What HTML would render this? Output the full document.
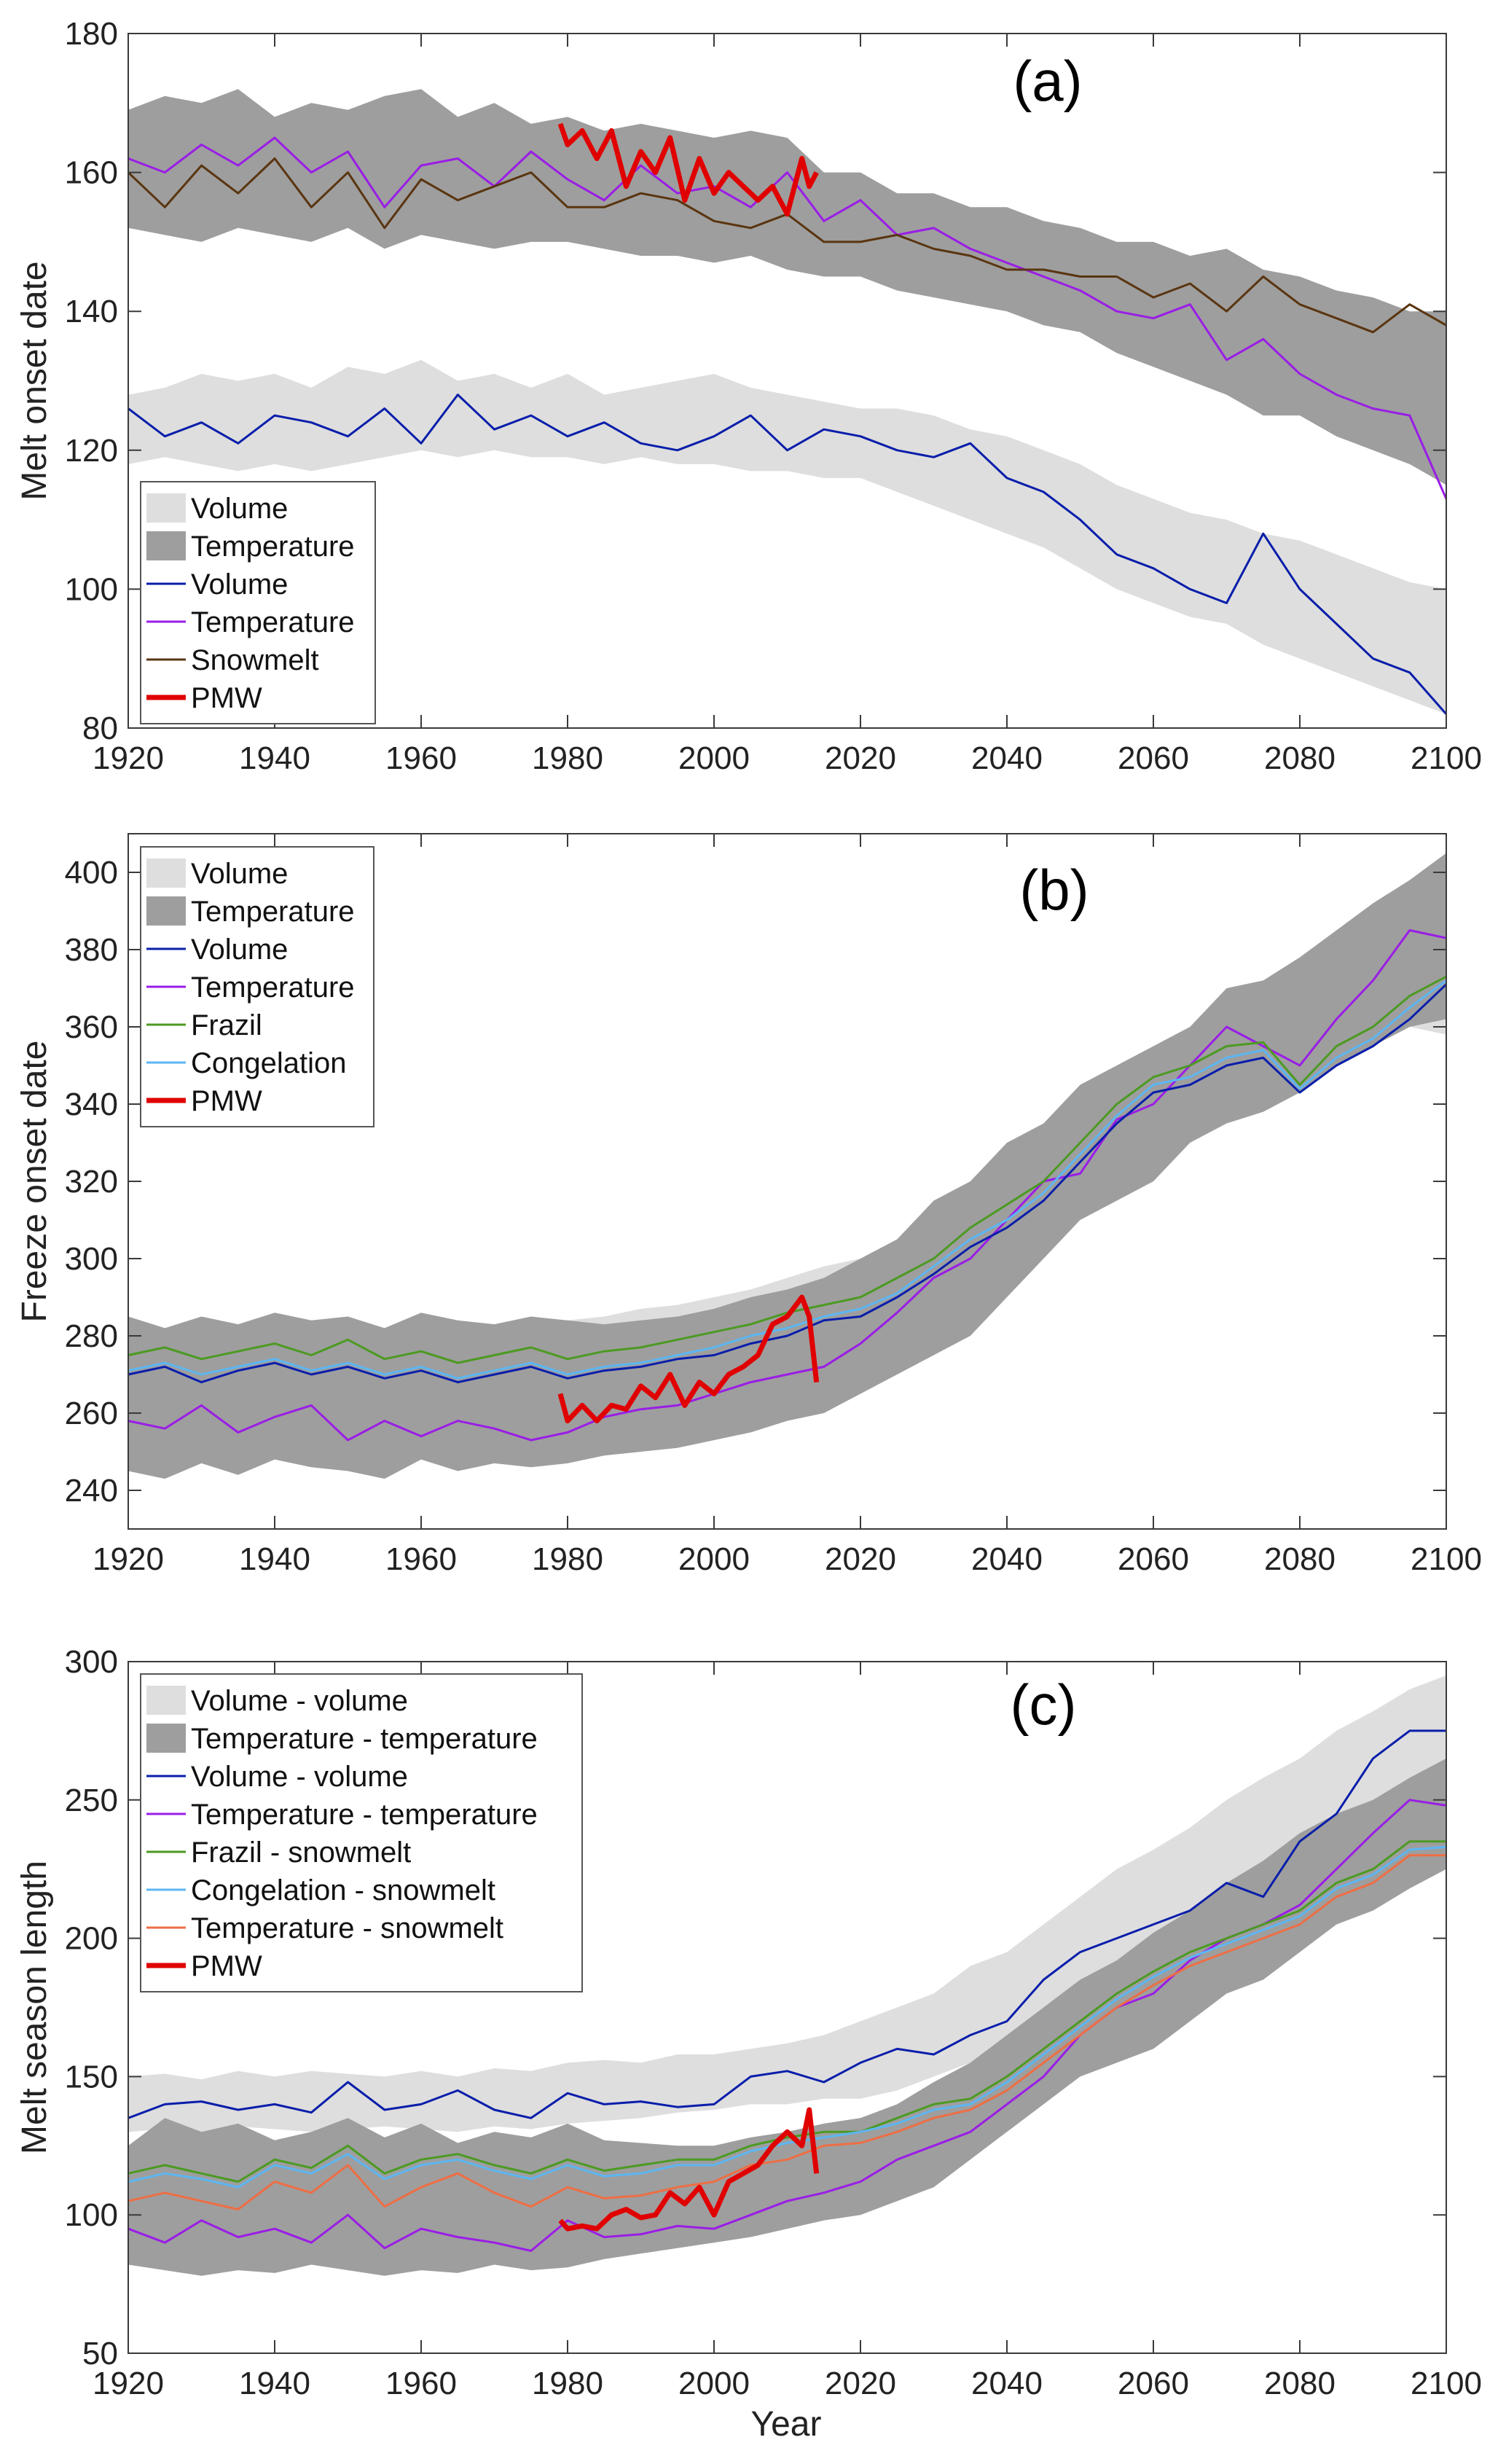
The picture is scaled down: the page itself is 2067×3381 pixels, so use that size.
<!DOCTYPE html>
<html><head><meta charset="utf-8">
<style>
html,body{margin:0;padding:0;background:#fff;}
svg{display:block;font-family:"Liberation Sans",Arial,sans-serif;}
</style></head>
<body>
<svg id="chart" width="2067" height="3381" viewBox="0 0 2067 3381" xmlns="http://www.w3.org/2000/svg"></svg>
<script>
const years = [1920,1925,1930,1935,1940,1945,1950,1955,1960,1965,1970,1975,1980,1985,1990,1995,2000,2005,2010,2015,2020,2025,2030,2035,2040,2045,2050,2055,2060,2065,2070,2075,2080,2085,2090,2095,2100];
const pmwYears = [1979,1980,1982,1984,1986,1988,1990,1992,1994,1996,1998,2000,2002,2004,2006,2008,2010,2012,2013,2014];
const xTicks = [1920,1940,1960,1980,2000,2020,2040,2060,2080,2100];

// Panel (a) melt onset
const aTempHi = [169,171,170,172,168,170,169,171,172,168,170,167,168,166,167,166,165,166,165,160,160,157,157,155,155,153,152,150,150,148,149,146,145,143,142,140,140];
const aTempLo = [152,151,150,152,151,150,152,149,151,150,149,150,150,149,148,148,147,148,146,145,145,143,142,141,140,138,137,134,132,130,128,125,125,122,120,118,115];
const aVolHi = [128,129,131,130,131,129,132,131,133,130,131,129,131,128,129,130,131,129,128,127,126,126,125,123,122,120,118,115,113,111,110,108,107,105,103,101,100];
const aVolLo = [118,119,118,117,118,117,118,119,120,119,120,119,119,118,119,118,118,117,117,116,116,114,112,110,108,106,103,100,98,96,95,92,90,88,86,84,82];
const aVol = [126,122,124,121,125,124,122,126,121,128,123,125,122,124,121,120,122,125,120,123,122,120,119,121,116,114,110,105,103,100,98,108,100,95,90,88,82];
const aTemp = [162,160,164,161,165,160,163,155,161,162,158,163,159,156,161,157,158,155,160,153,156,151,152,149,147,145,143,140,139,141,133,136,131,128,126,125,113];
const aSnow = [160,155,161,157,162,155,160,152,159,156,158,160,155,155,157,156,153,152,154,150,150,151,149,148,146,146,145,145,142,144,140,145,141,139,137,141,138];
const aPmw = [167,164,166,162,166,158,163,160,165,156,162,157,160,158,156,158,154,162,158,160];
const aTicks = [80,100,120,140,160,180];

// Panel (b) freeze onset
const bTempHi = [285,282,285,283,286,284,285,282,286,284,283,285,284,283,284,285,287,290,292,295,300,305,315,320,330,335,345,350,355,360,370,372,378,385,392,398,405];
const bTempLo = [245,243,247,244,248,246,245,243,248,245,247,246,247,249,250,251,253,255,258,260,265,270,275,280,290,300,310,315,320,330,335,338,343,350,355,360,362];
const bVolHi = [281,282,280,282,281,283,280,282,281,282,283,282,284,285,287,288,290,292,295,298,300,303,310,315,322,330,340,345,348,353,360,362,366,370,375,378,376];
const bVolLo = [265,264,266,265,264,266,265,264,265,266,265,264,266,267,268,270,272,275,277,280,282,286,290,295,302,310,320,325,330,335,340,340,345,352,357,360,358];
const bVol = [270,272,268,271,273,270,272,269,271,268,270,272,269,271,272,274,275,278,280,284,285,290,296,303,308,315,325,335,343,345,350,352,343,350,355,362,371];
const bTemp = [258,256,262,255,259,262,253,258,254,258,256,253,255,259,261,262,265,268,270,272,278,286,295,300,310,320,322,336,340,350,360,355,350,362,372,385,383];
const bFraz = [275,277,274,276,278,275,279,274,276,273,275,277,274,276,277,279,281,283,286,288,290,295,300,308,314,320,330,340,347,350,355,356,345,355,360,368,373];
const bCong = [271,273,270,272,274,271,273,270,272,269,271,273,270,272,273,275,277,280,282,285,287,291,298,305,310,317,327,337,345,347,352,354,344,352,357,365,372];
const bPmw = [265,258,262,258,262,261,267,264,270,262,268,265,270,272,275,283,285,290,285,268];
const bTicks = [240,260,280,300,320,340,360,380,400];

// Panel (c) melt season length
const cVolHi = [150,151,149,152,150,152,151,150,152,150,153,152,155,156,155,158,158,160,162,165,170,175,180,190,195,205,215,225,232,240,250,258,265,275,282,290,295];
const cVolLo = [130,131,130,132,131,130,131,132,131,130,132,131,133,134,135,137,138,140,140,142,142,145,150,155,160,167,175,180,185,192,200,210,218,225,235,240,245];
const cTempHi = [125,135,130,133,127,130,135,128,133,126,130,128,133,127,126,125,125,128,130,133,135,140,148,155,165,175,185,192,202,210,220,228,238,245,250,258,265];
const cTempLo = [82,80,78,80,79,82,80,78,80,79,82,80,81,84,86,88,90,92,95,98,100,105,110,120,130,140,150,155,160,170,180,185,195,205,210,218,225];
const cVol = [135,140,141,138,140,137,148,138,140,145,138,135,144,140,141,139,140,150,152,148,155,160,158,165,170,185,195,200,205,210,220,215,235,245,265,275,275];
const cTemp = [95,90,98,92,95,90,100,88,95,92,90,87,98,92,93,96,95,100,105,108,112,120,125,130,140,150,165,175,180,192,200,205,212,225,238,250,248];
const cFraz = [115,118,115,112,120,117,125,115,120,122,118,115,120,116,118,120,120,125,128,130,130,135,140,142,150,160,170,180,188,195,200,205,210,220,225,235,235];
const cCong = [112,115,113,110,118,115,122,113,118,120,116,113,118,114,115,118,118,123,126,128,130,133,138,140,148,158,168,178,186,193,198,203,208,218,223,232,233];
const cOrng = [105,108,105,102,112,108,118,103,110,115,108,103,110,106,107,110,112,118,120,125,126,130,135,138,145,155,165,175,183,190,195,200,205,215,220,230,230];
const cPmw = [98,95,96,95,100,102,99,100,108,104,110,100,112,115,118,125,130,125,138,115];
const cTicks = [50,100,150,200,250,300];

const NS = "http://www.w3.org/2000/svg";
const svg = document.getElementById('chart');
const X0 = 176, X1 = 1985;
const C = {light:'#dedede', dark:'#9e9e9e', blue:'#0a1eaa', purple:'#9a1de6', brown:'#5a3510', red:'#e00000', green:'#4c9a22', lblue:'#5cb6f2', orange:'#ee6e44'};

function mk(tag, attrs, parent){
  const e = document.createElementNS(NS, tag);
  for (const k in attrs) e.setAttribute(k, attrs[k]);
  (parent||svg).appendChild(e);
  return e;
}
function xs(y){ return X0 + (y-1920)/(2100-1920)*(X1-X0); }

function panel(p){
  const g = mk('g', {});
  
  
  const ys = v => p.bot - (v-p.min)/(p.max-p.min)*(p.bot-p.top);
  function band(hi, lo, fill, name){
    let d = 'M' + years.map((y,i)=>xs(y).toFixed(1)+','+ys(hi[i]).toFixed(1)).join('L');
    for (let i=years.length-1;i>=0;i--) d += 'L'+xs(years[i]).toFixed(1)+','+ys(lo[i]).toFixed(1);
    const e = mk('path', {d:d+'Z', fill:fill, stroke:'none'}, g);
    
    
  }
  function line(xv, vals, color, w, name){
    const d = 'M' + xv.map((y,i)=>xs(y).toFixed(1)+','+ys(vals[i]).toFixed(1)).join('L');
    const e = mk('path', {d:d, fill:'none', stroke:color, 'stroke-width':w, 'stroke-linejoin':'round'}, g);
    
    
  }
  p.bands.forEach(b=>band(b[0], b[1], b[2], b[3]));
  p.lines.forEach(l=>line(l[0], l[1], l[2], l[3], l[4]));
  // axes box
  const box = mk('rect', {x:X0, y:p.top, width:X1-X0, height:p.bot-p.top, fill:'none', stroke:'#3a3a3a', 'stroke-width':2}, g);
  
  
  p.ticks.forEach(t=>{
    const y = ys(t);
    mk('line', {x1:X0, x2:X0+18, y1:y, y2:y, stroke:'#3a3a3a', 'stroke-width':2}, g);
    mk('line', {x1:X1, x2:X1-18, y1:y, y2:y, stroke:'#3a3a3a', 'stroke-width':2}, g);
    const tx = mk('text', {x:X0-14, y:y+15, 'text-anchor':'end', 'font-size':44, fill:'#222'}, g);
    
    
    tx.textContent = t;
  });
  xTicks.forEach(t=>{
    const x = xs(t);
    mk('line', {x1:x, x2:x, y1:p.bot, y2:p.bot-18, stroke:'#3a3a3a', 'stroke-width':2}, g);
    mk('line', {x1:x, x2:x, y1:p.top, y2:p.top+18, stroke:'#3a3a3a', 'stroke-width':2}, g);
    const tx = mk('text', {x:x, y:p.bot+56, 'text-anchor':'middle', 'font-size':44, fill:'#222'}, g);
    
    
    tx.textContent = t;
  });
  const yt = mk('text', {x:0, y:0, transform:'translate(63,'+((p.top+p.bot)/2)+') rotate(-90)', 'text-anchor':'middle', 'font-size':48, fill:'#222'}, g);
  
  
  yt.textContent = p.ytitle;
  const pl = mk('text', {x:p.lx, y:p.ly, 'text-anchor':'middle', 'font-size':78, fill:'#000'}, g);
  
  
  pl.textContent = p.label;
  // legend
  const lg = mk('g', {}, g);
  
  
  mk('rect', {x:193, y:p.legTop, width:p.legW, height:p.leg.length*52+20, fill:'#fff', stroke:'#555', 'stroke-width':2}, lg);
  p.leg.forEach((it,i)=>{
    const cy = p.legTop + 36 + i*52;
    const en = mk('g', {}, lg);
    
    
    if (it[2]==='band') mk('rect', {x:201, y:cy-20, width:54, height:40, fill:it[1]}, en);
    else mk('line', {x1:201, x2:255, y1:cy, y2:cy, stroke:it[1], 'stroke-width':it[2]}, en);
    const t = mk('text', {x:262, y:cy+14, 'font-size':40, fill:'#111'}, en);
    t.textContent = it[0];
  });
}

panel({name:'panel-a-melt-onset', top:46, bot:999, min:80, max:180, ticks:aTicks, ytitle:'Melt onset date', label:'(a)', lx:1438, ly:138,
  bands:[[aVolHi,aVolLo,C.light,'volume-band'],[aTempHi,aTempLo,C.dark,'temperature-band']],
  lines:[[years,aVol,C.blue,3,'volume-line'],[years,aTemp,C.purple,3,'temperature-line'],[years,aSnow,C.brown,3,'snowmelt-line'],[pmwYears,aPmw,C.red,7,'pmw-line']],
  legTop:661, legW:322,
  leg:[['Volume',C.light,'band'],['Temperature',C.dark,'band'],['Volume',C.blue,3],['Temperature',C.purple,3],['Snowmelt',C.brown,3],['PMW',C.red,7]]});

panel({name:'panel-b-freeze-onset', top:1144, bot:2098, min:230, max:410, ticks:bTicks, ytitle:'Freeze onset date', label:'(b)', lx:1447, ly:1248,
  bands:[[bVolHi,bVolLo,C.light,'volume-band'],[bTempHi,bTempLo,C.dark,'temperature-band']],
  lines:[[years,bTemp,C.purple,3,'temperature-line'],[years,bFraz,C.green,3,'frazil-line'],[years,bVol,C.blue,3,'volume-line'],[years,bCong,C.lblue,3,'congelation-line'],[pmwYears,bPmw,C.red,7,'pmw-line']],
  legTop:1162, legW:320,
  leg:[['Volume',C.light,'band'],['Temperature',C.dark,'band'],['Volume',C.blue,3],['Temperature',C.purple,3],['Frazil',C.green,3],['Congelation',C.lblue,3],['PMW',C.red,7]]});

panel({name:'panel-c-melt-season-length', top:2280, bot:3229, min:50, max:300, ticks:cTicks, ytitle:'Melt season length', label:'(c)', lx:1432, ly:2366,
  bands:[[cVolHi,cVolLo,C.light,'volume-band'],[cTempHi,cTempLo,C.dark,'temperature-band']],
  lines:[[years,cVol,C.blue,3,'volume-volume-line'],[years,cTemp,C.purple,3,'temperature-temperature-line'],[years,cFraz,C.green,3,'frazil-snowmelt-line'],[years,cCong,C.lblue,3,'congelation-snowmelt-line'],[years,cOrng,C.orange,3,'temperature-snowmelt-line'],[pmwYears,cPmw,C.red,7,'pmw-line']],
  legTop:2297, legW:606,
  leg:[['Volume - volume',C.light,'band'],['Temperature -  temperature',C.dark,'band'],['Volume - volume',C.blue,3],['Temperature -  temperature',C.purple,3],['Frazil - snowmelt',C.green,3],['Congelation - snowmelt',C.lblue,3],['Temperature - snowmelt',C.orange,3],['PMW',C.red,7]]});

const xl = mk('text', {x:1079, y:3342, 'text-anchor':'middle', 'font-size':48, fill:'#222'});


xl.textContent = 'Year';
</script>
</body></html>
